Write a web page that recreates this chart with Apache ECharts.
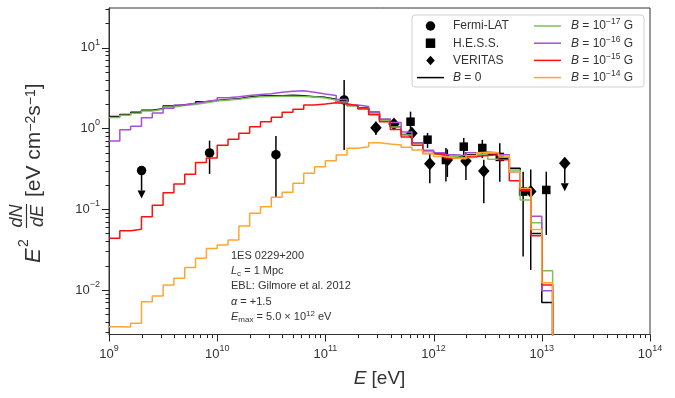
<!DOCTYPE html>
<html>
<head>
<meta charset="utf-8">
<script src="https://cdn.jsdelivr.net/npm/echarts@6/dist/echarts.min.js"></script>
<style>
  html, body { margin: 0; padding: 0; background: #fff; }
  #chart { width: 675px; height: 398px; }
</style>
</head>
<body>
<div id="chart"></div>
<script>
// bin edges (log10 of energy in eV), 10 bins per decade
const binExp = [9.0, 9.1, 9.2, 9.3, 9.4, 9.5, 9.6, 9.7, 9.8, 9.9,
  10.0, 10.1, 10.2, 10.3, 10.4, 10.5, 10.6, 10.7, 10.8, 10.9,
  11.0, 11.1, 11.2, 11.3, 11.4, 11.5, 11.6, 11.7, 11.8, 11.9,
  12.0, 12.1, 12.2, 12.3, 12.4, 12.5, 12.6, 12.7, 12.8, 12.9,
  13.0, 13.1]

// E^2 dN/dE per bin for each field strength
const specB0 = [1.40, 1.49, 1.58, 1.68, 1.75, 1.89, 1.96, 2.02, 2.14, 2.22,
  2.28, 2.33, 2.45, 2.52, 2.54, 2.54, 2.57, 2.54, 2.47, 2.42,
  2.29, 2.15, 1.92, 1.80, 1.54, 1.27, 1.05, 0.84, 0.66, 0.52,
  0.49, 0.45, 0.44, 0.47, 0.48, 0.48, 0.425, 0.32, 0.165, 0.050, 0.0070]
const specB17 = [1.36, 1.45, 1.54, 1.64, 1.72, 1.84, 1.92, 1.98, 2.08, 2.18,
  2.24, 2.30, 2.40, 2.46, 2.48, 2.50, 2.50, 2.48, 2.44, 2.38,
  2.25, 2.12, 1.90, 1.78, 1.52, 1.26, 1.04, 0.83, 0.65, 0.52,
  0.48, 0.45, 0.43, 0.44, 0.47, 0.415, 0.44, 0.305, 0.13, 0.068, 0.0173]
const specB16 = [0.70, 0.96, 1.06, 1.35, 1.55, 1.78, 1.95, 2.05, 2.15, 2.25,
  2.40, 2.47, 2.56, 2.62, 2.68, 2.80, 2.88, 2.93, 2.80, 2.66,
  2.55, 2.27, 1.95, 1.86, 1.61, 1.31, 1.18, 0.90, 0.66, 0.535,
  0.50, 0.47, 0.46, 0.50, 0.51, 0.50, 0.47, 0.29, 0.17, 0.082, 0.0098]
const specB15 = [0.0436, 0.0542, 0.0564, 0.0807, 0.112, 0.160, 0.205, 0.270, 0.377, 0.43,
  0.62, 0.733, 0.87, 1.05, 1.21, 1.37, 1.58, 1.72, 1.95, 2.00,
  2.08, 2.02, 1.91, 1.74, 1.47, 1.21, 0.97, 0.78, 0.62, 0.49,
  0.47, 0.43, 0.42, 0.45, 0.46, 0.47, 0.41, 0.225, 0.17, 0.047, 0.0115]
const specB14 = [0.00351, 0.00347, 0.00387, 0.00716, 0.00843, 0.0115, 0.0140, 0.0189, 0.0247, 0.0325,
  0.0360, 0.0416, 0.062, 0.089, 0.107, 0.140, 0.162, 0.209, 0.278, 0.336,
  0.398, 0.469, 0.567, 0.594, 0.666, 0.641, 0.623, 0.583, 0.54, 0.49,
  0.45, 0.43, 0.42, 0.46, 0.50, 0.50, 0.455, 0.29, 0.18, 0.056, 0.0123]

// measurements: energy, value, lower and upper error
const fermiE = [8.5e9, 3.49e10, 1.49e11]
const fermiY = [0.497, 0.473, 2.25]
const fermiLo = [0.273, 0.140, 0.54]
const fermiHi = [0.705, 0.805, 3.97]
const fermiUlE = [2.0e9]
const fermiUlY = [0.30]

const hessE = [6.12e11, 8.79e11, 1.30e12, 1.90e12, 2.82e12, 4.09e12, 6.72e12, 1.10e13]
const hessY = [1.21, 0.725, 0.406, 0.594, 0.572, 0.443, 0.165, 0.173]
const hessLo = [0.91, 0.573, 0.22, 0.44, 0.43, 0.219, 0.026, 0.048]
const hessHi = [1.61, 0.879, 0.57, 0.76, 0.72, 0.654, 0.291, 0.291]

const veritasE = [2.93e11, 4.30e11, 6.30e11, 9.22e11, 1.34e12, 1.99e12, 2.91e12, 7.90e12]
const veritasY = [1.02, 1.13, 0.87, 0.366, 0.406, 0.395, 0.297, 0.165]
const veritasLo = [0.83, 0.97, 0.74, 0.21, 0.25, 0.23, 0.118, 0.0177]
const veritasHi = [1.21, 1.30, 1.00, 0.48, 0.55, 0.51, 0.41, 0.31]
const veritasUlE = [1.63e13]
const veritasUlY = [0.37]

// axis ranges and ticks
const X_MIN = 1e9, X_MAX = 1e14
const Y_MIN = 0.00281, Y_MAX = 30.9
const xMajor = [1e9, 1e10, 1e11, 1e12, 1e13, 1e14]
const yMajor = [0.01, 0.1, 1, 10]

const FONT = 'Liberation Sans'
const INK = '#333'
const TICK = '#222'

function minorTicks(lo, hi) {
  const out = []
  for (let d = lo; d <= hi; d++) {
    for (let m = 2; m <= 9; m++) out.push(m * Math.pow(10, d))
  }
  return out
}
const xMinor = minorTicks(9, 13)
const yMinor = minorTicks(-3, 1).filter(v => v > Y_MIN && v < Y_MAX)

function stepData(vals) {
  const pts = vals.map((v, i) => [Math.pow(10, binExp[i]), v])
  const last = Math.pow(10, binExp[vals.length])
  pts.push([last, vals[vals.length - 1]])
  pts.push([last, 1e-6]) // empty beyond the last bin
  return pts
}

function zip() {
  const cols = Array.from(arguments)
  return cols[0].map((_, i) => cols.map(c => c[i]))
}

function powLabel(v) {
  const e = Math.round(Math.log10(v))
  return '10{sup|' + String(e).replace('-', '\u2212') + '}'
}

function errorBar(params, api) {
  const a = api.coord([api.value(0), api.value(1)])
  const b = api.coord([api.value(0), api.value(2)])
  return {
    type: 'line',
    shape: { x1: a[0], y1: a[1], x2: b[0], y2: b[1] },
    style: { stroke: '#000', lineWidth: 1.5 }
  }
}

function upperArrow(params, api) {
  const p = api.coord([api.value(0), api.value(1)])
  const len = 28, hw = 4, hh = 8
  return {
    type: 'group',
    children: [
      { type: 'line', shape: { x1: p[0], y1: p[1], x2: p[0], y2: p[1] + len - hh }, style: { stroke: '#000', lineWidth: 1.5 } },
      { type: 'polygon', shape: { points: [[p[0] - hw, p[1] + len - hh], [p[0] + hw, p[1] + len - hh], [p[0], p[1] + len]] }, style: { fill: '#000' } }
    ]
  }
}

const supRich = {
  sup: { fontSize: 9, lineHeight: 9, verticalAlign: 'top', fontFamily: FONT, color: INK }
}

const bNames = {
  'B0': '{it|B} = 0',
  'B17': '{it|B} = 10{sup|\u221217} G',
  'B16': '{it|B} = 10{sup|\u221216} G',
  'B15': '{it|B} = 10{sup|\u221215} G',
  'B14': '{it|B} = 10{sup|\u221214} G'
}

const legendRich = {
  it: { fontStyle: 'italic', fontSize: 12, lineHeight: 17, fontFamily: FONT, color: INK },
  sup: { fontSize: 8.5, lineHeight: 9, verticalAlign: 'top', fontFamily: FONT, color: INK }
}

const LINE_ICON = 'path://M0,0 L27,0 L27,1.5 L0,1.5 Z'
const SQUARE_ICON = 'path://M0,0 L9,0 L9,9 L0,9 Z'
const DIAMOND_ICON = 'path://M5,0 L10,5.5 L5,11 L0,5.5 Z'

const lineSeries = (name, vals, color) => ({
  name: name,
  type: 'line',
  step: 'end',
  symbol: 'none',
  z: 4,
  data: stepData(vals),
  lineStyle: { color: color, width: 1.5 },
  itemStyle: { color: color }
})

const baseGraphic = [
  {
    type: 'rect', x: 412, y: 15, z: 3,
    shape: { width: 232, height: 72, r: 3 },
    style: { fill: 'rgba(255,255,255,0.85)', stroke: '#d0d0d0', lineWidth: 1 }
  },
  {
    type: 'group', x: 231, y: 0,
    children: [
      { type: 'text', y: 255.7, style: { text: '1ES 0229+200', fontSize: 11, fontFamily: FONT, fill: INK, verticalAlign: 'middle' } },
      { type: 'text', y: 271, style: { text: '{it|L}{sub|c} = 1 Mpc', fontSize: 11, fontFamily: FONT, fill: INK, verticalAlign: 'middle',
        rich: { it: { fontStyle: 'italic', fontSize: 11, fontFamily: FONT, fill: INK, lineHeight: 14 }, sub: { fontSize: 8, lineHeight: 8, verticalAlign: 'bottom', fontFamily: FONT, fill: INK } } } },
      { type: 'text', y: 286.3, style: { text: 'EBL: Gilmore et al. 2012', fontSize: 11, fontFamily: FONT, fill: INK, verticalAlign: 'middle' } },
      { type: 'text', y: 301.7, style: { text: '{it|\u03b1} = +1.5', fontSize: 11, fontFamily: FONT, fill: INK, verticalAlign: 'middle',
        rich: { it: { fontStyle: 'italic', fontSize: 11, fontFamily: FONT, fill: INK } } } },
      { type: 'text', y: 316.7, style: { text: '{it|E}{sub|max} = 5.0 \u00d7 10{sup|12} eV', fontSize: 11, fontFamily: FONT, fill: INK, verticalAlign: 'middle',
        rich: {
          it: { fontStyle: 'italic', fontSize: 11, fontFamily: FONT, fill: INK, lineHeight: 14 },
          sub: { fontSize: 8, lineHeight: 8, verticalAlign: 'bottom', fontFamily: FONT, fill: INK },
          sup: { fontSize: 8, lineHeight: 8, verticalAlign: 'top', fontFamily: FONT, fill: INK }
        } } }
    ]
  },
  {
    // y axis title, rotated to read bottom-to-top
    type: 'group', x: 33.5, y: 263, rotation: Math.PI / 2,
    children: [
      { type: 'text', x: 0, y: 0, style: { text: 'E', fontSize: 22, fontStyle: 'italic', fontFamily: FONT, fill: INK, verticalAlign: 'middle' } },
      { type: 'text', x: 16, y: -9, style: { text: '2', fontSize: 14, fontFamily: FONT, fill: INK, verticalAlign: 'middle' } },
      { type: 'text', x: 47, y: -17, style: { text: 'dN', fontSize: 18, fontStyle: 'italic', fontFamily: FONT, fill: INK, align: 'center', verticalAlign: 'middle' } },
      { type: 'line', shape: { x1: 35, y1: -7, x2: 59, y2: -7 }, style: { stroke: INK, lineWidth: 1.2 } },
      { type: 'text', x: 47, y: 4, style: { text: 'dE', fontSize: 18, fontStyle: 'italic', fontFamily: FONT, fill: INK, align: 'center', verticalAlign: 'middle' } },
      { type: 'text', x: 66, y: 1, style: { text: '[eV cm{sup|\u22122}s{sup|\u22121}]', fontSize: 21, fontFamily: FONT, fill: INK, verticalAlign: 'middle',
        rich: { sup: { fontSize: 14, lineHeight: 14, verticalAlign: 'top', fontFamily: FONT, fill: INK } } } }
    ]
  }
]

const chart = echarts.init(document.getElementById('chart'), null, { renderer: 'canvas' })

const option = {
  animation: false,
  backgroundColor: '#fff',
  grid: { left: 109, top: 8, right: 25, bottom: 63.5, show: true, borderColor: INK, borderWidth: 1, backgroundColor: 'transparent' },
  xAxis: {
    type: 'log', min: X_MIN, max: X_MAX,
    name: '{it|E} [eV]', nameLocation: 'middle', nameGap: 35,
    nameTextStyle: { fontSize: 19, fontFamily: FONT, color: INK, rich: { it: { fontStyle: 'italic', fontSize: 19, fontFamily: FONT, color: INK } } },
    axisLine: { lineStyle: { color: INK, width: 1 } },
    axisTick: { show: false },
    axisLabel: {
      customValues: xMajor, margin: 10, fontSize: 13, fontFamily: FONT, color: INK, lineHeight: 20,
      formatter: powLabel, rich: supRich
    },
    splitLine: { show: false }
  },
  yAxis: {
    type: 'log', min: Y_MIN, max: Y_MAX,
    axisLine: { lineStyle: { color: INK, width: 1 } },
    axisTick: { show: false },
    axisLabel: {
      customValues: yMajor, margin: 9, fontSize: 13, fontFamily: FONT, color: INK, lineHeight: 20,
      formatter: powLabel, rich: supRich
    },
    splitLine: { show: false }
  },
  legend: [
    {
      orient: 'vertical', left: 417, top: 17.5, padding: 0, itemGap: 0.2,
      itemWidth: 27, itemHeight: 9.5, symbolKeepAspect: true,
      data: [
        { name: 'Fermi-LAT', icon: 'circle' },
        { name: 'H.E.S.S.', icon: SQUARE_ICON },
        { name: 'VERITAS', icon: DIAMOND_ICON },
        { name: 'B0', icon: LINE_ICON }
      ],
      formatter: n => bNames[n] || n,
      textStyle: { fontSize: 12, fontFamily: FONT, color: INK, lineHeight: 17, padding: [0, 0, 0, 4], rich: legendRich }
    },
    {
      orient: 'vertical', left: 534, top: 17.5, padding: 0, itemGap: 0.2,
      itemWidth: 27, itemHeight: 9.5, symbolKeepAspect: true,
      data: ['B17', 'B16', 'B15', 'B14'].map(n => ({ name: n, icon: LINE_ICON })),
      formatter: n => bNames[n],
      textStyle: { fontSize: 12, fontFamily: FONT, color: INK, lineHeight: 17, padding: [0, 0, 0, 5], rich: legendRich }
    }
  ],
  series: [
    lineSeries('B0', specB0, '#000000'),
    lineSeries('B17', specB17, '#7cc05a'),
    lineSeries('B16', specB16, '#a650d8'),
    lineSeries('B15', specB15, '#ff1010'),
    lineSeries('B14', specB14, '#ffa630'),
    { type: 'custom', renderItem: errorBar, data: zip(fermiE, fermiLo, fermiHi), encode: { x: 0, y: [1, 2] }, z: 2, silent: true },
    { type: 'custom', renderItem: errorBar, data: zip(hessE, hessLo, hessHi), encode: { x: 0, y: [1, 2] }, z: 2, silent: true },
    { type: 'custom', renderItem: errorBar, data: zip(veritasE, veritasLo, veritasHi), encode: { x: 0, y: [1, 2] }, z: 2, silent: true },
    { type: 'custom', renderItem: upperArrow, data: zip(fermiUlE, fermiUlY).concat(zip(veritasUlE, veritasUlY)), encode: { x: 0, y: 1 }, z: 2, silent: true },
    {
      name: 'Fermi-LAT', type: 'scatter', symbol: 'circle', symbolSize: 9.5, z: 3,
      itemStyle: { color: '#000', opacity: 1 },
      data: zip(fermiE, fermiY).concat(zip(fermiUlE, fermiUlY))
    },
    {
      name: 'H.E.S.S.', type: 'scatter', symbol: 'rect', symbolSize: 8.5, z: 3,
      itemStyle: { color: '#000', opacity: 1 },
      data: zip(hessE, hessY)
    },
    {
      name: 'VERITAS', type: 'scatter', symbol: 'diamond', symbolSize: [11.5, 13], z: 3,
      itemStyle: { color: '#000', opacity: 1 },
      data: zip(veritasE, veritasY).concat(zip(veritasUlE, veritasUlY))
    }
  ]
}

chart.setOption(option)

// log axis ticks (major + minor), placed through the axes' own scales,
// then all decorations are added in one graphic option
const gridBottom = chart.convertToPixel({ yAxisIndex: 0 }, Y_MIN)
const gridLeft = chart.convertToPixel({ xAxisIndex: 0 }, X_MIN)
const tickEls = []
function xTick(v, len) {
  const px = Math.round(chart.convertToPixel({ xAxisIndex: 0 }, v)) + 0.5
  tickEls.push({ type: 'line', shape: { x1: px, y1: gridBottom, x2: px, y2: gridBottom + len }, style: { stroke: TICK, lineWidth: 1 } })
}
function yTick(v, len) {
  const py = Math.round(chart.convertToPixel({ yAxisIndex: 0 }, v)) + 0.5
  tickEls.push({ type: 'line', shape: { x1: gridLeft, y1: py, x2: gridLeft - len, y2: py }, style: { stroke: TICK, lineWidth: 1 } })
}
xMajor.forEach(v => xTick(v, 7))
xMinor.forEach(v => xTick(v, 3.5))
yMajor.forEach(v => yTick(v, 7))
yMinor.forEach(v => yTick(v, 3.5))
chart.setOption({ graphic: tickEls.concat(baseGraphic) })
</script>
</body>
</html>
